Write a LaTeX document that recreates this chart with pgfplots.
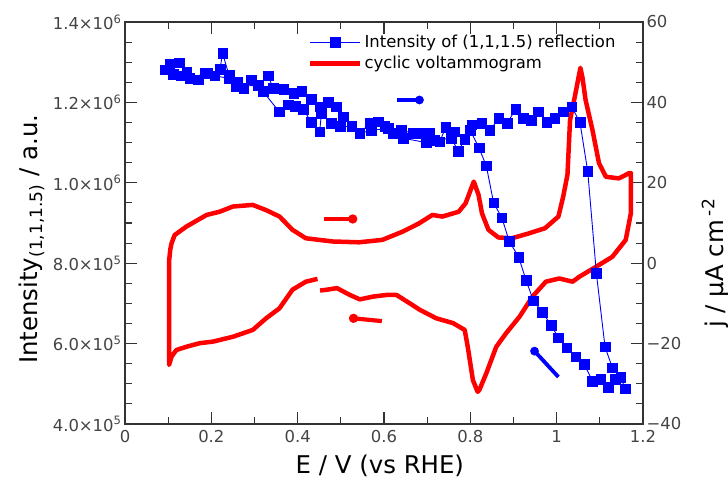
\documentclass[border=0pt]{standalone}
\usepackage{fontspec}
\setmainfont{DejaVu Sans}
\usepackage{pgfplots}
\pgfplotsset{compat=1.18}
\usetikzlibrary{arrows.meta}
\definecolor{axgray}{HTML}{333333}
\definecolor{tickgray}{HTML}{444444}
\definecolor{cvred}{HTML}{FF0000}
\definecolor{xblue}{HTML}{0000FF}

\pgfplotsset{
  common/.style={
    width=518bp, height=402bp, scale only axis,
    xmin=0, xmax=1.2,
    axis line style={axgray, line width=1.2bp},
    tick align=inside,
    major tick length=12bp, minor tick length=7bp,
    tick style={axgray, line width=1.1bp},
    tick label style={font=\fontsize{16.5}{19}\selectfont, text=tickgray, /pgf/number format/assume math mode=true},
    label style={font=\fontsize{24.5}{29}\selectfont},
  }
}

\begin{document}
\begin{tikzpicture}
% ---------- right axis: cyclic voltammogram ----------
\begin{axis}[common, name=ax,
  axis x line=none, axis y line*=right,
  ymin=-40, ymax=60,
  ytick={-40,-20,0,20,40,60},
  yticklabels={−40,−20,0,20,40,60},
  minor y tick num=3,
  ylabel={j / μA cm\,\textsuperscript{-2}},
  ylabel style={at={(axis description cs:1.139,0.40)}, anchor=center, rotate=0},
]
\addplot[cvred, line width=4.5bp, line join=round] coordinates {
(0.446,-3.9)(0.419,-4.6)(0.388,-6.6)(0.358,-11.2)(0.327,-13.7)(0.296,-16.6)(0.250,-18.3)(0.204,-19.5)(0.173,-19.9)(0.142,-20.8)(0.119,-21.6)(0.108,-23.2)(0.102,-25.3)
(0.102,0.4)(0.105,3.5)(0.108,5.0)(0.115,7.0)(0.142,9.1)(0.189,12.0)(0.219,12.8)(0.250,14.1)(0.296,14.5)(0.327,13.2)(0.358,11.6)(0.388,8.3)(0.419,6.2)(0.450,5.8)(0.481,5.4)(0.542,5.2)(0.596,5.8)(0.642,7.8)(0.681,9.9)(0.712,12.0)(0.735,11.6)(0.773,12.8)(0.789,14.9)(0.808,20.3)(0.819,17.0)(0.827,12.4)(0.842,8.3)(0.865,6.4)(0.896,6.2)(0.935,7.4)(0.973,8.7)(1.004,11.6)(1.015,16.5)(1.025,22)(1.031,35.6)(1.042,41.4)(1.055,48.6)(1.060,46)(1.067,40.6)(1.083,33.1)(1.098,24.9)(1.114,21.5)(1.144,21.1)(1.168,22.4)(1.172,22.4)
(1.172,12.5)(1.160,5.8)(1.129,1.6)(1.091,-0.9)(1.052,-3.4)(1.037,-4.6)(1.006,-3.8)(0.975,-4.6)(0.944,-8.3)(0.914,-13.3)(0.883,-17.4)(0.860,-20.8)(0.837,-27.4)(0.821,-31.5)(0.817,-32.0)(0.806,-29.1)(0.794,-20.8)(0.787,-16.6)(0.760,-14.9)(0.721,-13.7)(0.683,-11.6)(0.660,-10.0)(0.629,-7.9)(0.606,-7.9)(0.575,-8.3)(0.544,-9.0)(0.521,-7.9)(0.491,-6.2)(0.467,-6.6)(0.452,-6.8)
};
% direction arrows of the CV
\addplot[cvred, line width=4.2bp, -{Circle[length=9bp]}] coordinates {(0.462,11.0)(0.538,11.0)};
\addplot[cvred, line width=4.2bp, -{Circle[length=9bp]}] coordinates {(0.595,-14.4)(0.519,-13.6)};
\end{axis}

% ---------- left axis: intensity ----------
\begin{axis}[common,
  xtick={0,0.2,0.4,0.6,0.8,1,1.2},
  minor x tick num=1,
  xtick pos=both, xticklabel pos=lower,
  xticklabel style={yshift=-3bp},
  ymin=4e5, ymax=1.4e6,
  ytick={4e5,6e5,8e5,1e6,1.2e6,1.4e6},
  yticklabels={4.0×10\textsuperscript{5},6.0×10\textsuperscript{5},8.0×10\textsuperscript{5},1.0×10\textsuperscript{6},1.2×10\textsuperscript{6},1.4×10\textsuperscript{6}},
  scaled y ticks=false,
  minor y tick num=3,
  ytick pos=left,
  xlabel={E / V (vs RHE)},
  xlabel style={at={(axis description cs:0.492,-0.104)}, anchor=center},
  ylabel={Intensity\textsubscript{(1,1,1.5)}  / a.u.},
  ylabel style={at={(axis description cs:-0.18,0.46)}, anchor=center},
  legend style={draw=none, fill=none, at={(axis description cs:0.353,0.972)}, anchor=north west,
    font=\fontsize{16.5}{19}\selectfont, inner sep=0pt, row sep=3bp},
  legend cell align=left,
  legend image code/.code={\draw[mark repeat=2,mark phase=2,#1] plot coordinates {(0bp,0bp)(25bp,0bp)(50bp,0bp)};},
]
\addplot[xblue, line width=0.9bp, mark=square*, mark size=4.8bp, mark options={fill=xblue, draw=xblue, line width=0.5bp}] coordinates {
(0.093,1281e3)(0.104,1295e3)(0.126,1299e3)(0.143,1276e3)(0.150,1260e3)(0.170,1256e3)(0.191,1272e3)(0.208,1266e3)(0.220,1282e3)(0.226,1322e3)(0.241,1268e3)(0.260,1251e3)(0.275,1235e3)(0.293,1256e3)(0.309,1243e3)(0.332,1266e3)(0.343,1235e3)(0.368,1233e3)(0.391,1223e3)(0.409,1227e3)(0.432,1208e3)(0.451,1189e3)(0.471,1200e3)(0.490,1189e3)(0.505,1164e3)(0.525,1140e3)(0.544,1123e3)(0.567,1148e3)(0.586,1152e3)(0.602,1140e3)(0.621,1123e3)(0.640,1131e3)(0.667,1123e3)(0.687,1123e3)(0.706,1123e3)(0.729,1102e3)(0.743,1138e3)(0.764,1127e3)(0.787,1108e3)(0.803,1144e3)(0.826,1148e3)(0.845,1130e3)(0.866,1160e3)(0.885,1148e3)(0.905,1183e3)(0.922,1160e3)(0.941,1156e3)(0.957,1177e3)(0.977,1150e3)(0.996,1160e3)(1.015,1177e3)(1.035,1189e3)(1.054,1150e3)(1.072,1028e3)(1.092,775e3)(1.112,592e3)(1.129,540e3)(1.148,516e3)(1.159,488e3)(1.136,512e3)(1.119,491e3)(1.102,511e3)(1.083,507e3)(1.064,548e3)(1.044,567e3)(1.023,590e3)(1.004,615e3)(0.987,646e3)(0.967,678e3)(0.946,707e3)(0.929,758e3)(0.912,815e3)(0.890,855e3)(0.873,913e3)(0.854,950e3)(0.837,1042e3)(0.820,1087e3)(0.800,1130e3)(0.772,1079e3)(0.756,1111e3)(0.718,1106e3)(0.698,1100e3)(0.644,1111e3)(0.610,1135e3)(0.571,1131e3)(0.544,1123e3)(0.525,1140e3)(0.498,1140e3)(0.478,1148e3)(0.455,1173e3)(0.451,1127e3)(0.432,1150e3)(0.413,1183e3)(0.394,1191e3)(0.378,1194e3)(0.357,1177e3)(0.320,1227e3)(0.309,1243e3)(0.257,1239e3)(0.241,1260e3)(0.208,1266e3)(0.186,1272e3)(0.150,1260e3)(0.131,1266e3)(0.112,1270e3)(0.093,1281e3)
};
\addlegendentry{Intensity of (1,1,1.5) reflection}
\addlegendimage{cvred, line width=4.5bp}
\addlegendentry{cyclic voltammogram}
% direction arrows of the intensity
\addplot[xblue, line width=3.8bp, -{Circle[length=8.5bp]}, forget plot] coordinates {(0.630,1206e3)(0.692,1206e3)};
\addplot[xblue, line width=3.8bp, -{Circle[length=8.5bp]}, forget plot] coordinates {(1.004,517e3)(0.942,589e3)};
\end{axis}
\pgfresetboundingbox
\path (ax.south west) ++(-125bp,-61bp) rectangle ++(728bp,485bp);
\end{tikzpicture}
\end{document}
